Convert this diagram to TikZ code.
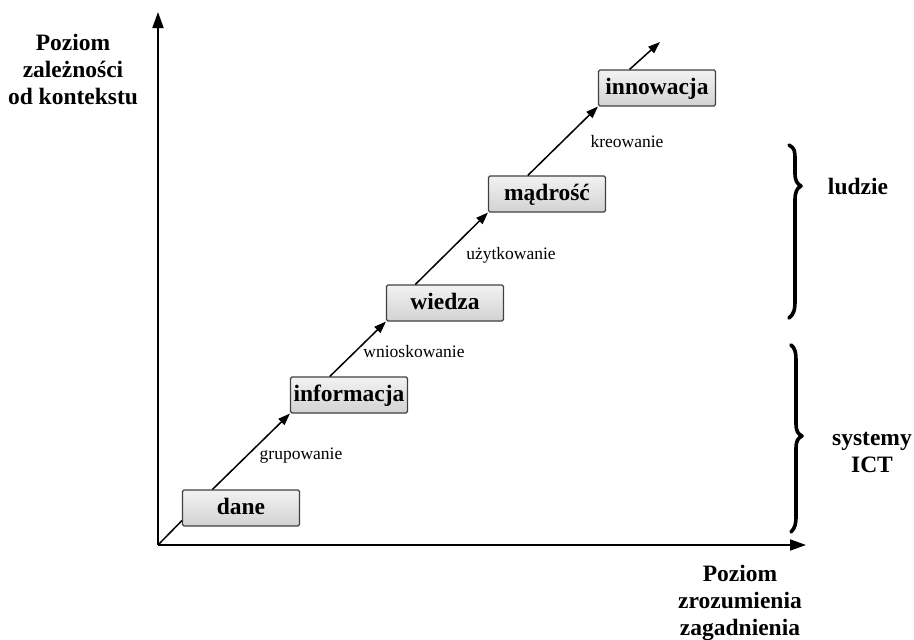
\documentclass[tikz,border=0pt]{standalone}
\usepackage{fontspec}
\setmainfont{Liberation Serif}
\usetikzlibrary{arrows.meta}
\begin{document}
\begin{tikzpicture}[x=1pt,y=-1pt,
  stage/.style={draw=black!75, line width=1.1pt, rounded corners=1.5pt,
    top color=gray!10, bottom color=gray!35,
    minimum width=117pt, minimum height=36pt, inner sep=0pt,
    text height=16pt, text depth=4pt,
    font=\fontsize{23.5}{25}\selectfont\bfseries},
  axis/.style={line width=1.8pt, -{Triangle[length=16pt,width=11pt]}},
  flow/.style={line width=1.5pt, -{Triangle[length=12pt,width=8.5pt]}},
  verb/.style={font=\fontsize{17.5}{19}\selectfont},
  caption/.style={align=center, font=\fontsize{23.5}{27}\selectfont\bfseries},
  brace/.style={line width=3.6pt, line cap=round, line join=round}
]
\useasboundingbox (0,0) rectangle (914,640);

% axes
\coordinate (O) at (158,545);
\coordinate (ytip) at (158,12);
\coordinate (xtip) at (806,545);
\draw[axis] (O) -- (ytip);
\draw[axis] (O) -- (xtip);

\node[caption] (ylab) at (73,69) {Poziom\\zależności\\od kontekstu};
\node[caption] (xlab) at (740,603) {Poziom\\zrozumienia\\zagadnienia};

% stages
\node[stage] (dane) at (241,508) {dane};
\node[stage] (info) at (349,395) {informacja};
\node[stage] (wiedza) at (445,303) {wiedza};
\node[stage] (madr) at (547,194) {mądrość};
\node[stage] (inno) at (657,88) {innowacja};
\coordinate (top) at (660,42);

% transitions
\draw[line width=1.5pt] (O) -- (dane.192);
\draw[flow] (dane.147) -- (info.south west);
\draw[flow] (info.136) -- (wiedza.south west);
\draw[flow] (wiedza.148) -- (madr.south west);
\draw[flow] (madr.136) -- (inno.south west);
\draw[flow] (inno.146) -- (top);

\node[verb] (g) at (301,456) {grupowanie};
\node[verb] (w) at (414,352) {wnioskowanie};
\node[verb] (u) at (511,255) {użytkowanie};
\node[verb] (k) at (627,142) {kreowanie};

% groups on the right
\draw[brace] (789,145) .. controls (795,148) and (795,152) .. (795,160)
  -- (795,174) .. controls (795,180) and (797,184) .. (801,186)
  .. controls (797,188) and (795,192) .. (795,200)
  -- (795,300) .. controls (795,310) and (794,314) .. (789,318);
\draw[brace] (791,345) .. controls (795,348) and (796,352) .. (796,362)
  -- (796,424) .. controls (796,431) and (798,434) .. (802,436)
  .. controls (798,438) and (796,441) .. (796,448)
  -- (796,516) .. controls (796,524) and (795,528) .. (791,532);

\node[caption] (ppl) at (858,186) {ludzie};
\node[caption] (ict) at (872,452) {systemy\\ICT};
\end{tikzpicture}
\end{document}
